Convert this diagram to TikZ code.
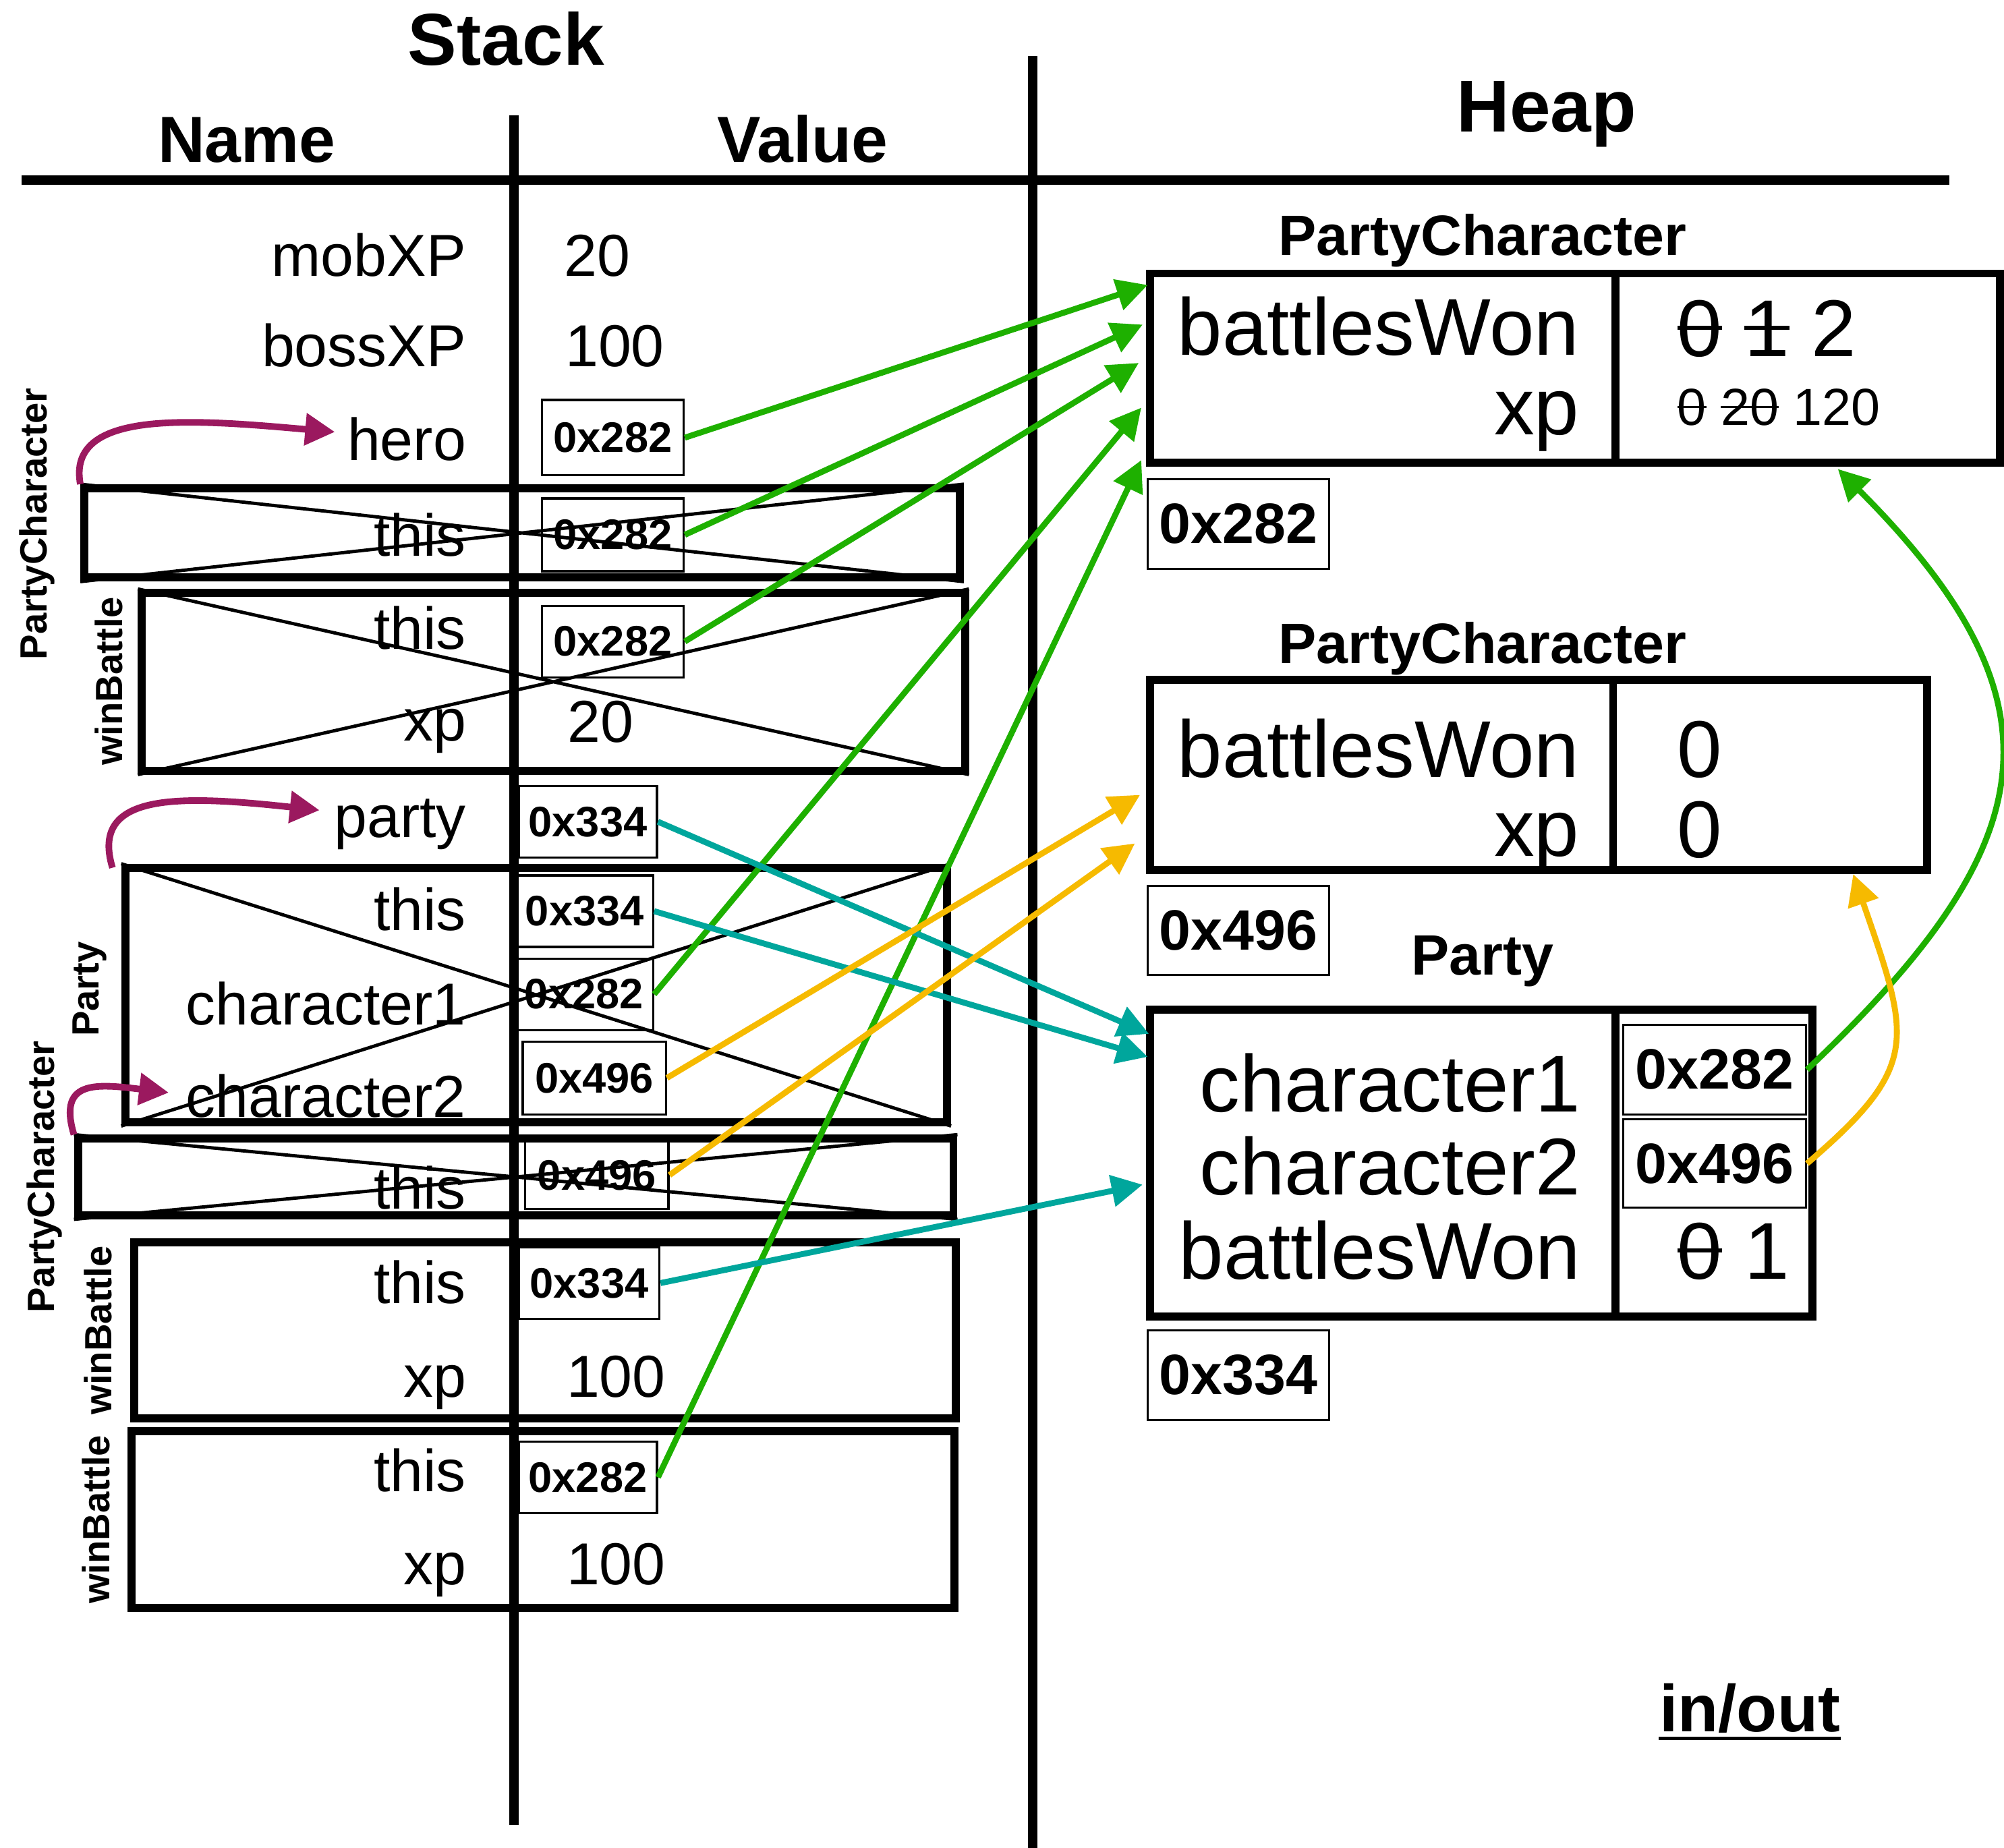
\documentclass[tikz,border=0pt]{standalone}
\usepackage{fontspec}
\setmainfont{Liberation Sans}
\usetikzlibrary{arrows.meta,fit}

\definecolor{refgreen}{RGB}{30,176,0}
\definecolor{refteal}{RGB}{0,166,156}
\definecolor{refyellow}{RGB}{246,186,0}
\definecolor{refmagenta}{RGB}{155,25,95}

% struck-out old value
\newsavebox\strkbox
\newcommand\strk[1]{\sbox\strkbox{#1}\rlap{\usebox\strkbox}\rule[0.33em]{\wd\strkbox}{0.05em}}

\tikzset{
  divline/.style={line width=4pt},
  stackframe/.style={draw, line width=3.4pt, inner sep=0pt},
  heapbox/.style={draw, line width=3.4pt, inner sep=0pt},
  xcross/.style={line width=1.4pt},
  addr/.style={draw, line width=0.9pt, inner sep=0pt},
  addrtxt/.style={inner sep=0pt, font=\fontsize{18}{20}\selectfont\bfseries},
  haddrtxt/.style={inner sep=0pt, font=\fontsize{24}{28}\selectfont\bfseries},
  header/.style={anchor=base, inner sep=0pt, font=\fontsize{31}{36}\selectfont\bfseries},
  subheader/.style={anchor=base, inner sep=0pt, font=\fontsize{27.5}{32}\selectfont\bfseries},
  classname/.style={anchor=base, inner sep=0pt, font=\fontsize{24}{28}\selectfont\bfseries},
  sname/.style={anchor=base east, inner sep=0pt, font=\fontsize{25}{30}\selectfont},
  sval/.style={anchor=base west, inner sep=0pt, font=\fontsize{25}{30}\selectfont},
  hname/.style={anchor=base east, inner sep=0pt, font=\fontsize{34}{40}\selectfont},
  hval/.style={anchor=base west, inner sep=0pt, font=\fontsize{34}{40}\selectfont},
  hsmall/.style={anchor=base west, inner sep=0pt, font=\fontsize{22}{26}\selectfont},
  flabel/.style={rotate=90, inner sep=0pt, font=\fontsize{16}{18}\selectfont\bfseries},
  ptr/.style={line width=2.5pt, -{Triangle[length=0.46cm,width=0.46cm]}},
  callarrow/.style={refmagenta, line width=2.8pt, -{Triangle[length=0.44cm,width=0.46cm]}},
}

\begin{document}
\begin{tikzpicture}[x=0.01895cm,y=-0.01895cm]
\useasboundingbox (0,0) rectangle (1568,1446);

% ---------- table rules ----------
\draw[divline] (17,141) -- (1525,141);
\draw[divline] (402,90) -- (402,1428);
\draw[divline] (808,44) -- (808,1446);

\node[header] (stackhd) at (396,51) {Stack};
\node[header] (heaphd) at (1210,103) {Heap};
\node[subheader] (namehd) at (193,127) {Name};
\node[subheader] (valuehd) at (628,127) {Value};

% ---------- stack: main ----------
\node[sname] (n1) at (365,216) {mobXP};
\node[sval]  (v1) at (441,216) {20};
\node[sname] (n2) at (365,287) {bossXP};
\node[sval]  (v2) at (442,287) {100};
\node[sname] (n3) at (365,360) {hero};
\node[addr, fit={(424,313)(535,372)}, label={[addrtxt]center:0x282}] (a1) {};

% PartyCharacter constructor (finished)
\node[stackframe, fit={(66,382)(751,452)}] (f1) {};
\draw[xcross] (f1.north west) -- (f1.south east) (f1.south west) -- (f1.north east);
\node[sname] (n4) at (365,435) {this};
\node[addr, fit={(424,390)(535,447)}, label={[addrtxt]center:0x282}] (a2) {};
\node[flabel] (lb1) at (29,410) {PartyCharacter};

% winBattle (finished)
\node[stackframe, fit={(111,464)(755,603)}] (f2) {};
\draw[xcross] (f2.north west) -- (f2.south east) (f2.south west) -- (f2.north east);
\node[sname] (n5) at (365,508) {this};
\node[addr, fit={(424,474)(535,530)}, label={[addrtxt]center:0x282}] (a3) {};
\node[sname] (n6) at (365,580) {xp};
\node[sval]  (v6) at (444,581) {20};
\node[flabel] (lb2) at (85,533) {winBattle};

\node[sname] (n7) at (365,655) {party};
\node[addr, fit={(406,615)(514,671)}, label={[addrtxt]center:0x334}] (a4) {};

% Party constructor (finished)
\node[stackframe, fit={(98,679)(741,878)}] (f3) {};
\draw[xcross] (f3.north west) -- (f3.south east) (f3.south west) -- (f3.north east);
\node[sname] (n8) at (365,728) {this};
\node[addr, fit={(404,685)(511,741)}, label={[addrtxt]center:0x334}] (a5) {};
\node[sname] (n9) at (365,802) {character1};
\node[addr, fit={(403,750)(511,806)}, label={[addrtxt]center:0x282}] (a6) {};
\node[sname] (n10) at (365,874) {character2};
\node[addr, fit={(409,815)(521,872)}, label={[addrtxt]center:0x496}] (a7) {};
\node[flabel] (lb3) at (70,774) {Party};

% PartyCharacter constructor (finished)
\node[stackframe, fit={(61,891)(746,951)}] (f4) {};
\draw[xcross] (f4.north west) -- (f4.south east) (f4.south west) -- (f4.north east);
\node[sname] (n11) at (365,946) {this};
\node[addr, fit={(411,893)(523,946)}, label={[addrtxt]center:0x496}] (a8) {};
\node[flabel] (lb4) at (35,921) {PartyCharacter};

% winBattle on the party
\node[stackframe, fit={(105,972)(748,1110)}] (f5) {};
\node[sname] (n12) at (365,1020) {this};
\node[addr, fit={(406,976)(516,1032)}, label={[addrtxt]center:0x334}] (a9) {};
\node[sname] (n13) at (365,1093) {xp};
\node[sval]  (v13) at (443,1093) {100};
\node[flabel] (lb5) at (77,1041) {winBattle};

% winBattle on the hero
\node[stackframe, fit={(103,1120)(747,1258)}] (f6) {};
\node[sname] (n14) at (365,1167) {this};
\node[addr, fit={(406,1128)(514,1184)}, label={[addrtxt]center:0x282}] (a10) {};
\node[sname] (n15) at (365,1240) {xp};
\node[sval]  (v15) at (443,1240) {100};
\node[flabel] (lb6) at (75,1189) {winBattle};

% ---------- heap ----------
% PartyCharacter @ 0x282
\node[classname] (c1) at (1160,200) {PartyCharacter};
\node[heapbox, fit={(900,214)(1565,362)}] (h1) {};
\draw[line width=3.2pt] (1264,214) -- (1264,362);
\node[hname] (h1n1) at (1236,278) {battlesWon};
\node[hname] (h1n2) at (1236,340) {xp};
\node[hval]  (h1v1) at (1312,279) {\strk{0} \strk{1} 2};
\node[hsmall] (h1v2) at (1312,333) {\strk{0} \strk{20} 120};
\node[addr, fit={(898,375)(1040,445)}, label={[haddrtxt]center:0x282}] (l1) {};

% PartyCharacter @ 0x496
\node[classname] (c2) at (1160,519) {PartyCharacter};
\node[heapbox, fit={(900,532)(1508,681)}] (h2) {};
\draw[line width=3.2pt] (1262,532) -- (1262,681);
\node[hname] (h2n1) at (1236,608) {battlesWon};
\node[hname] (h2n2) at (1236,670) {xp};
\node[hval]  (h2v1) at (1312,608) {0};
\node[hval]  (h2v2) at (1312,671) {0};
\node[addr, fit={(898,693)(1040,763)}, label={[haddrtxt]center:0x496}] (l2) {};

% Party @ 0x334
\node[classname] (c3) at (1160,763) {Party};
\node[heapbox, fit={(900,790)(1418,1030)}] (h3) {};
\draw[line width=3.2pt] (1264,790) -- (1264,1030);
\node[hname] (h3n1) at (1237,870) {character1};
\node[hname] (h3n2) at (1237,935) {character2};
\node[hname] (h3n3) at (1237,1001) {battlesWon};
\node[addr, fit={(1270,802)(1413,872)}, label={[haddrtxt]center:0x282}] (p1) {};
\node[addr, fit={(1270,876)(1413,945)}, label={[haddrtxt]center:0x496}] (p2) {};
\node[hval]  (h3v3) at (1312,1001) {\strk{0} 1};
\node[addr, fit={(898,1041)(1040,1111)}, label={[haddrtxt]center:0x334}] (l3) {};

\node[anchor=base, inner sep=0pt, font=\fontsize{28}{32}\selectfont\bfseries] (inout) at (1369,1355) {in/out};
\draw[line width=1.5pt] ([yshift=-0.1cm]inout.base west) -- ([yshift=-0.1cm]inout.base east);

% ---------- arrow tips ----------
\coordinate (g1t) at (898,223);
\coordinate (g2t) at (894,254);
\coordinate (g3t) at (891,284);
\coordinate (g4t) at (893,319);
\coordinate (g5t) at (893,360);
\coordinate (g6t) at (1438,367);
\coordinate (t1t) at (899,809);
\coordinate (t2t) at (898,827);
\coordinate (t3t) at (894,927);
\coordinate (y1t) at (892,622);
\coordinate (y2t) at (888,660);
\coordinate (y3t) at (1450,684);
\coordinate (m1t) at (262,338);
\coordinate (m2s) at (88,679);
\coordinate (m2t) at (250,634);
\coordinate (m3t) at (132,855);

% call arrows
\draw[callarrow] (f1.north west) .. controls (52,320) and (150,328) .. (m1t);
\draw[callarrow] (m2s) .. controls (70,620) and (140,622) .. (m2t);
\draw[callarrow] (f4.north west) .. controls (45,845) and (75,848) .. (m3t);

% references to 0x282
\draw[ptr, refgreen] (a1.east) -- (g1t);
\draw[ptr, refgreen] (a2.east) -- (g2t);
\draw[ptr, refgreen] (a3.east) -- (g3t);
\draw[ptr, refgreen] (a6.east) -- (g4t);
\draw[ptr, refgreen] (a10.east) -- (g5t);
\draw[ptr, refgreen] (p1.east) .. controls (1598,663) and (1623,552) .. (g6t);

% references to 0x334
\draw[ptr, refteal] (a4.east) -- (t1t);
\draw[ptr, refteal] (a5.east) -- (t2t);
\draw[ptr, refteal] (a9.east) -- (t3t);

% references to 0x496
\draw[ptr, refyellow] (a7.east) -- (y1t);
\draw[ptr, refyellow] (a8.east) -- (y2t);
\draw[ptr, refyellow] (p2.east) .. controls (1503,834) and (1495,814) .. (y3t);
\end{tikzpicture}
\end{document}
